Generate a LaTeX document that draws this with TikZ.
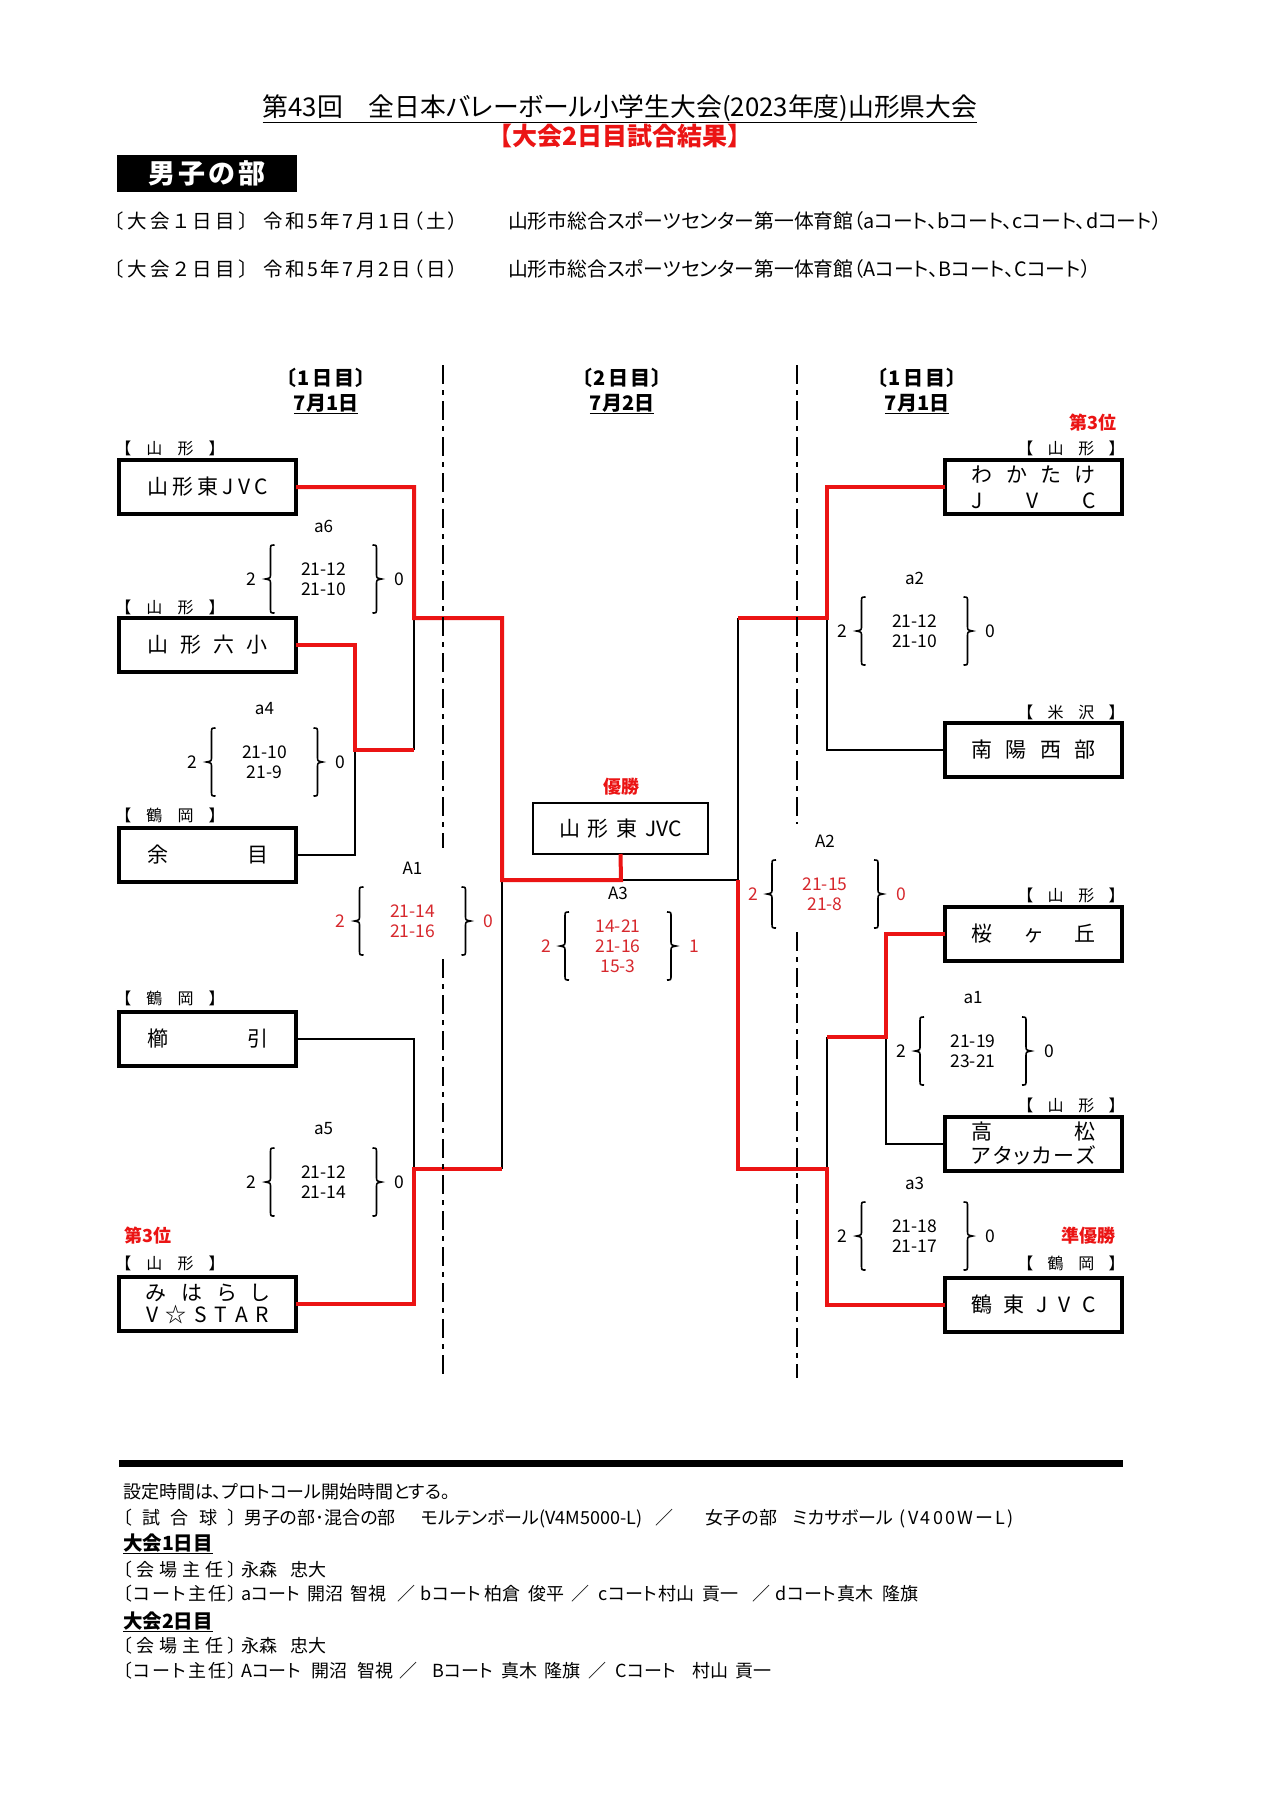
\documentclass[tikz,border=0pt]{standalone}
\usepackage{fontspec}
\setmainfont{Noto Sans CJK JP}[RawFeature=+palt]
\newfontfamily\jpn{Noto Sans CJK JP}
\newcommand\sprd[2]{\makebox[#1][s]{#2}}
\newcommand\seg[2]{\makebox[#1][l]{#2}}
\newcommand\fsz[1]{\fontsize{#1}{#1}\selectfont}
\newcommand\fszb[2]{\fontsize{#1}{#2}\selectfont}
\definecolor{bred}{RGB}{235,20,20}
\definecolor{sred}{RGB}{215,40,45}
\tikzset{
  teambox/.style={draw, line width=4pt, minimum width=177pt, minimum height=54pt, inner sep=0pt, outer sep=0pt, font=\fsz{21}, align=center},
  champbox/.style={draw, line width=2pt, minimum width=175pt, minimum height=51pt, inner sep=0pt, outer sep=0pt, font=\fsz{21}},
  win/.style={draw=bred, line width=4pt},
  lose/.style={draw=black, line width=2pt},
  dashline/.style={draw=black, line width=2pt, dash pattern=on 19pt off 6pt on 5pt off 6pt},
  brc/.style={draw=black, line width=1.6pt},
  txt/.style={inner sep=0pt, outer sep=0pt},
  reg/.style={txt, font=\fsz{16}},
  lbl/.style={txt, font=\fsz{17}},
  sco/.style={txt, font=\fszb{17.5}{20}, align=center},
  num/.style={txt, font=\fsz{17.5}},
  rank/.style={txt, font=\bfseries\fsz{18}, text=bred},
  dayhead/.style={txt, font=\bfseries\fsz{20}},
  foot/.style={txt, font=\fsz{18}, anchor=west},
  footb/.style={txt, font=\jpn\bfseries\fsz{19.5}, anchor=base west},
  head/.style={txt, font=\fsz{19.8}, anchor=west}
}
% #1 name, #2 centre x, #3 brace top, #4 label, #5 scores, #6 left num, #7 right num, #8 colour
\newcommand\matchblk[8]{%
  \node[lbl] (#1lab) at (#2,#3-19) {#4};
  \node[sco, text=#8] (#1sc) at (#2,#3+34) {#5};
  \node[num, text=#8] (#1nl) at (#2-72,#3+34) {#6};
  \node[num, text=#8] (#1nr) at (#2+76,#3+34) {#7};
  \draw[brc] (#2-49,#3) .. controls (#2-53,#3) .. (#2-53,#3+5) -- (#2-53,#3+29)
     .. controls (#2-53,#3+33) .. (#2-58,#3+34) .. controls (#2-53,#3+35) .. (#2-53,#3+39)
     -- (#2-53,#3+63) .. controls (#2-53,#3+68) .. (#2-49,#3+68);
  \draw[brc] (#2+49,#3) .. controls (#2+53,#3) .. (#2+53,#3+5) -- (#2+53,#3+29)
     .. controls (#2+53,#3+33) .. (#2+58,#3+34) .. controls (#2+53,#3+35) .. (#2+53,#3+39)
     -- (#2+53,#3+63) .. controls (#2+53,#3+68) .. (#2+49,#3+68);
}
\begin{document}
\begin{tikzpicture}[x=1pt,y=-1pt]
\useasboundingbox (0,0) rectangle (1272,1800);
\fill[white] (0,0) rectangle (1272,1800);

% ---------- header ----------
\node[txt, font=\fsz{25.8}, anchor=base] (title) at (620,116) {\underline{第43回　全日本バレーボール小学生大会(2023年度)山形県大会}};
\node[txt, font=\jpn\bfseries\fsz{25}, text=bred] (subtitle) at (620,136) {【大会2日目試合結果】};
\node[fill=black, minimum width=180pt, minimum height=37pt, inner sep=0pt, outer sep=0pt, text=white, font=\bfseries\fsz{27}] (division) at (207,173.5) {\sprd{117pt}{男\hfill 子\hfill の\hfill 部}};
\node[head, font=\fsz{19.5}] (day1) at (114,221) {\seg{149pt}{\sprd{135pt}{〔\hfill 大\hfill 会\hfill １\hfill 日\hfill 目\hfill 〕}}\sprd{195pt}{令\hfill 和\hfill 5\hfill 年\hfill 7\hfill 月\hfill 1\hfill 日\hfill （\hfill 土\hfill ）}};
\node[head] (venue1) at (508,221) {山形市総合スポーツセンター第一体育館（aコート、bコート、cコート、dコート）};
\node[head, font=\fsz{19.5}] (day2) at (114,269) {\seg{149pt}{\sprd{135pt}{〔\hfill 大\hfill 会\hfill ２\hfill 日\hfill 目\hfill 〕}}\sprd{195pt}{令\hfill 和\hfill 5\hfill 年\hfill 7\hfill 月\hfill 2\hfill 日\hfill （\hfill 日\hfill ）}};
\node[head] (venue2) at (508,269) {山形市総合スポーツセンター第一体育館（Aコート、Bコート、Cコート）};

% ---------- column heads ----------
\node[dayhead] (h1a) at (326,378) {\sprd{80pt}{〔\hfill 1\hfill 日\hfill 目\hfill 〕}};
\node[dayhead, anchor=base] (h1b) at (326,410) {\underline{7月1日}};
\node[dayhead] (h2a) at (622,378) {\sprd{80pt}{〔\hfill 2\hfill 日\hfill 目\hfill 〕}};
\node[dayhead, anchor=base] (h2b) at (622,410) {\underline{7月2日}};
\node[dayhead] (h3a) at (917,378) {\sprd{80pt}{〔\hfill 1\hfill 日\hfill 目\hfill 〕}};
\node[dayhead, anchor=base] (h3b) at (917,410) {\underline{7月1日}};

% ---------- teams left ----------
\node[teambox] (t1) at (207.5,487) {\sprd{121pt}{山\hfill 形\hfill 東\hfill J\hfill V\hfill C}};
\node[teambox] (t2) at (207.5,645) {\sprd{121pt}{山\hfill 形\hfill 六\hfill 小}};
\node[teambox] (t3) at (207.5,854.5) {\sprd{121pt}{余\hfill 目}};
\node[teambox] (t4) at (207.5,1038.5) {\sprd{121pt}{櫛\hfill 引}};
\node[teambox, font=\fszb{21}{22}] (t5) at (207.5,1304) {\sprd{123pt}{み\hfill は\hfill ら\hfill し}\\ \sprd{123pt}{V\hfill ☆\hfill S\hfill T\hfill A\hfill R}};
\node[reg] (g1) at (170,448) {\sprd{94pt}{【\hfill 山\hfill 形\hfill 】}};
\node[reg] (g2) at (170,607) {\sprd{94pt}{【\hfill 山\hfill 形\hfill 】}};
\node[reg] (g3) at (170,815) {\sprd{94pt}{【\hfill 鶴\hfill 岡\hfill 】}};
\node[reg] (g4) at (170,998) {\sprd{94pt}{【\hfill 鶴\hfill 岡\hfill 】}};
\node[reg] (g5) at (170,1263) {\sprd{94pt}{【\hfill 山\hfill 形\hfill 】}};
\node[rank] (third1) at (148,1236) {第3位};

% ---------- teams right ----------
\node[teambox, font=\fszb{21}{26}] (r1) at (1033.5,487) {\sprd{124pt}{わ\hfill か\hfill た\hfill け}\\ \sprd{124pt}{J\hfill V\hfill C}};
\node[teambox] (r2) at (1033.5,750) {\sprd{124pt}{南\hfill 陽\hfill 西\hfill 部}};
\node[teambox] (r3) at (1033.5,933.5) {\sprd{124pt}{桜\hfill ヶ\hfill 丘}};
\node[teambox, font=\fszb{21}{24}] (r4) at (1033.5,1143.5) {\sprd{124pt}{高\hfill 松}\\ \sprd{124pt}{ア\hfill タ\hfill ッ\hfill カ\hfill ー\hfill ズ}};
\node[teambox] (r5) at (1033.5,1304.5) {\sprd{124pt}{鶴\hfill 東\hfill J\hfill V\hfill C}};
\node[reg] (s1) at (1071,448) {\sprd{92pt}{【\hfill 山\hfill 形\hfill 】}};
\node[reg] (s2) at (1071,712) {\sprd{92pt}{【\hfill 米\hfill 沢\hfill 】}};
\node[reg] (s3) at (1071,895) {\sprd{92pt}{【\hfill 山\hfill 形\hfill 】}};
\node[reg] (s4) at (1071,1105) {\sprd{92pt}{【\hfill 山\hfill 形\hfill 】}};
\node[reg] (s5) at (1071,1263) {\sprd{92pt}{【\hfill 鶴\hfill 岡\hfill 】}};
\node[rank] (third2) at (1093,423) {第3位};
\node[rank] (second) at (1088,1236) {準優勝};

% ---------- champion ----------
\node[champbox] (champ) at (620.5,828.5) {\sprd{123pt}{山\hfill 形\hfill 東\hfill JVC}};
\node[rank] (winner) at (621,787) {優勝};

% ---------- junctions ----------
\coordinate (ja6) at (414,618);
\coordinate (ja4) at (355,750);
\coordinate (ja5) at (414,1169);
\coordinate (jA1) at (502,880);
\coordinate (jA3) at (621,880);
\coordinate (jA2) at (738,880);
\coordinate (ja2) at (827,618);
\coordinate (ja1) at (886,1037);
\coordinate (ja3) at (827,1169);

% ---------- losing lines ----------
\draw[lose] (t3.east) -| (ja4);
\draw[lose] (ja6 |- ja4) -- (ja6);
\draw[lose] (t4.east) -| (ja5);
\draw[lose] (jA1 |- ja5) -- (jA1);
\draw[lose] (jA3) -- (jA2) -- (jA2 |- ja2);
\draw[lose] (r2.west) -| (ja2);
\draw[lose] (r4.west) -| (ja1);
\draw[lose] (ja3 |- ja1) -- (ja3);

% ---------- winning lines ----------
\draw[win] (t2.east) -| (ja4) -- (ja6 |- ja4);
\draw[win] (t1.east) -| (ja6) -- (jA1 |- ja6) -- (jA1) -- (jA3) -- (champ.south);
\draw[win] (t5.east) -| (ja5) -- (jA1 |- ja5);
\draw[win] (r1.west) -| (ja2) -- (jA2 |- ja2);
\draw[win] (r3.west) -| (ja1) -- (ja3 |- ja1);
\draw[win] (r5.west) -| (ja3) -- (jA2 |- ja3) -- (jA2);

% ---------- dashed separators ----------
\coordinate (d1t) at (443,365); \coordinate (d1a) at (443,848);
\coordinate (d1b) at (443,959); \coordinate (d1e) at (443,1378);
\coordinate (d2t) at (797,365); \coordinate (d2a) at (797,824);
\coordinate (d2b) at (797,932); \coordinate (d2e) at (797,1378);
\draw[dashline] (d1t) -- (d1a);
\draw[dashline] (d1b) -- (d1e);
\draw[dashline] (d2t) -- (d2a);
\draw[dashline] (d2b) -- (d2e);

% ---------- match scores ----------
\matchblk{a6}{323.5}{545}{a6}{21-12\\21-10}{2}{0}{black}
\matchblk{a4}{264.5}{728}{a4}{21-10\\21-9}{2}{0}{black}
\matchblk{A1}{412.5}{887}{A1}{21-14\\21-16}{2}{0}{sred}
\matchblk{a5}{323.5}{1148}{a5}{21-12\\21-14}{2}{0}{black}
\matchblk{A3}{618}{912}{A3}{14-21\\21-16\\15-3}{2}{1}{sred}
\matchblk{a2}{914.5}{597}{a2}{21-12\\21-10}{2}{0}{black}
\matchblk{A2}{825}{860}{A2}{21-15\\21-8}{2}{0}{sred}
\matchblk{a1}{973}{1017}{a1}{21-19\\23-21}{2}{0}{black}
\matchblk{a3}{914.5}{1202}{a3}{21-18\\21-17}{2}{0}{black}

% ---------- footer ----------
\coordinate (ruleL) at (119,1463); \coordinate (ruleR) at (1123,1463);
\draw[line width=7pt] (ruleL) -- (ruleR);
\node[foot] (f1) at (123,1492) {設定時間は、プロトコール開始時間とする。};
\node[foot] (f2) at (123,1519) {\seg{121pt}{\sprd{114pt}{〔\hfill 試\hfill 合\hfill 球\hfill 〕}}\seg{177pt}{男子の部･混合の部}\seg{118pt}{モルテンボール}\seg{117pt}{\sprd{97pt}{(\hfill V\hfill 4\hfill M\hfill 5\hfill 0\hfill 0\hfill 0\hfill -\hfill L\hfill )}}\seg{50pt}{／}\seg{87pt}{女子の部}\seg{107pt}{ミカサボール}\sprd{114pt}{(\hfill V\hfill 4\hfill 0\hfill 0\hfill W\hfill ー\hfill L\hfill )}};
\node[footb] (f3) at (123,1550) {\underline{大会1日目}};
\node[foot] (f4) at (123,1570) {\seg{118pt}{\sprd{114pt}{〔\hfill 会\hfill 場\hfill 主\hfill 任\hfill 〕}}\seg{50pt}{永森}忠大};
\node[foot] (f5) at (123,1594) {\seg{118pt}{\sprd{114pt}{〔\hfill コ\hfill ー\hfill ト\hfill 主\hfill 任\hfill 〕}}\seg{67pt}{aコート}\seg{43pt}{開沼}\seg{47pt}{智視}\seg{23pt}{／}\seg{64pt}{bコート}\seg{44pt}{柏倉}\seg{43pt}{俊平}\seg{27pt}{／}\seg{60pt}{cコート}\seg{44pt}{村山}\seg{50pt}{貢一}\seg{23pt}{／}\seg{61pt}{dコート}\seg{46pt}{真木}隆旗};
\node[footb] (f6) at (123,1628) {\underline{大会2日目}};
\node[foot] (f7) at (123,1646) {\seg{118pt}{\sprd{114pt}{〔\hfill 会\hfill 場\hfill 主\hfill 任\hfill 〕}}\seg{50pt}{永森}忠大};
\node[foot] (f8) at (123,1671) {\seg{118pt}{\sprd{114pt}{〔\hfill コ\hfill ー\hfill ト\hfill 主\hfill 任\hfill 〕}}\seg{71pt}{Aコート}\seg{46pt}{開沼}\seg{42pt}{智視}\seg{33pt}{／}\seg{69pt}{Bコート}\seg{43pt}{真木}\seg{44pt}{隆旗}\seg{27pt}{／}\seg{77pt}{Cコート}\seg{43pt}{村山}貢一};
\end{tikzpicture}
\end{document}
